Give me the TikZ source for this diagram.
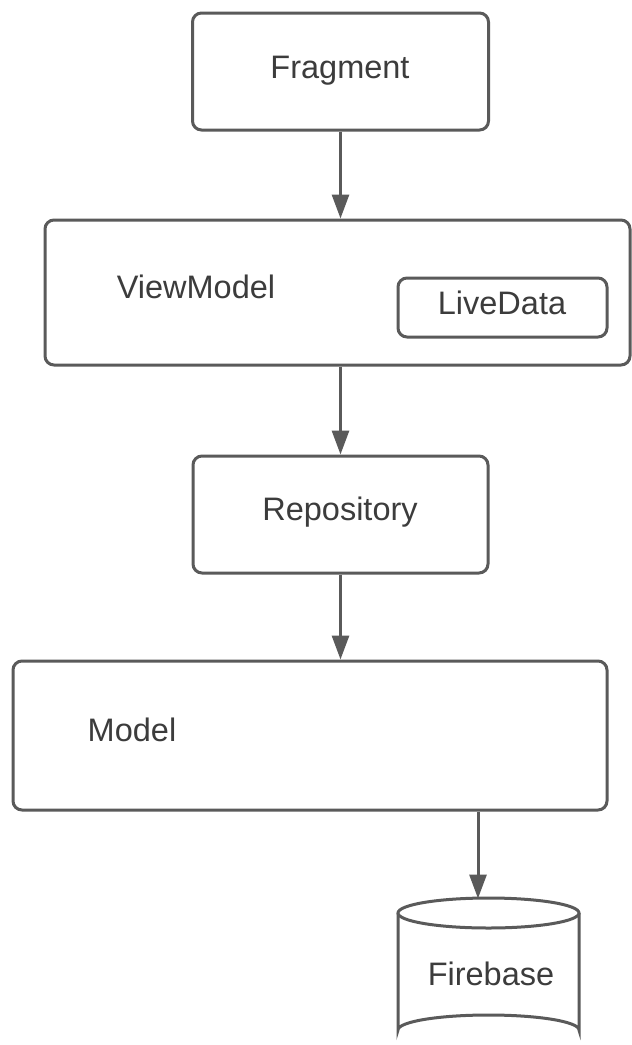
\documentclass[tikz,border=0pt]{standalone}
\usepackage{fontspec}
\setmainfont{Liberation Sans}
\usetikzlibrary{arrows.meta}
\definecolor{linegray}{HTML}{5A5A5A}
\definecolor{textgray}{HTML}{3C3C3C}
\begin{document}
\begin{tikzpicture}[x=1pt,y=-1pt,
  box/.style={draw=linegray, line width=3pt, rounded corners=9pt, fill=white, inner sep=0pt},
  lbl/.style={text=textgray, font=\fontsize{32.5}{38}\selectfont, anchor=base, inner sep=0pt},
  conn/.style={draw=linegray, line width=3pt, -{Triangle[width=17pt,length=24pt]}}]
\useasboundingbox (0,0) rectangle (632,1045);
\fill[white] (0,0) rectangle (632,1045);
% boxes
\node[box, minimum width=296pt, minimum height=117pt] (frag) at (340.5,71.5) {};
\node[box, minimum width=585pt, minimum height=145pt] (vm) at (337.5,292.5) {};
\node[box, minimum width=209pt, minimum height=59pt] (ld) at (502.5,307.5) {};
\node[box, minimum width=295pt, minimum height=117pt] (repo) at (340.5,514.5) {};
\node[box, minimum width=594pt, minimum height=149pt] (model) at (310,735.5) {};
% labels
\node[lbl] (tfrag) at (340,78) {Fragment};
\node[lbl] (tvm) at (196,298) {ViewModel};
\node[lbl] (tld) at (502,314) {LiveData};
\node[lbl] (trepo) at (340,520) {Repository};
\node[lbl] (tmodel) at (132,741) {Model};
% cylinder
\coordinate (cyltop) at (478,898.5);
\filldraw[draw=linegray, fill=white, line width=3pt]
  (398,913) -- (398,1030) arc[start angle=180, end angle=360, x radius=90.5, y radius=15]
  -- (579,913);
\filldraw[draw=linegray, fill=white, line width=3pt]
  (488.5,913) ellipse[x radius=90.5, y radius=15];
\node[lbl] (tfb) at (491,985) {Firebase};
% connectors
\draw[conn] (frag.south) -- (frag.south |- vm.north);
\draw[conn] (repo.north |- vm.south) -- (repo.north);
\draw[conn] (repo.south) -- (repo.south |- model.north);
\draw[conn] (model.south -| cyltop) -- (cyltop);
\end{tikzpicture}
\end{document}
